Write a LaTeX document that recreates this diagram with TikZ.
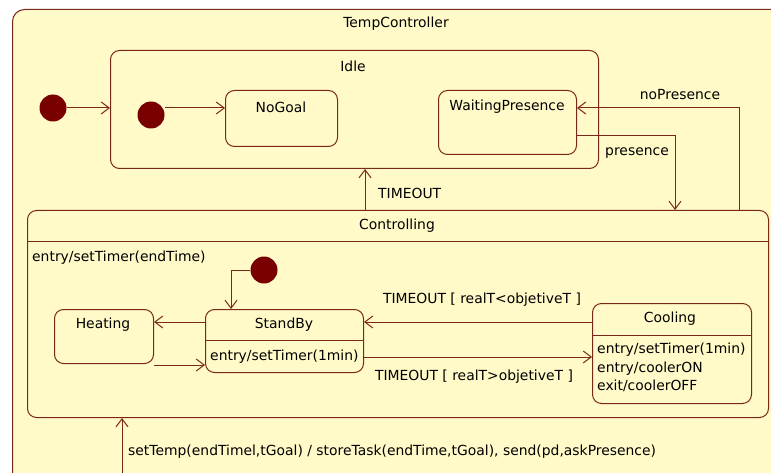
\documentclass[tikz,border=0pt]{standalone}
\usepackage{fontspec}
\setmainfont{DejaVu Sans}
\usetikzlibrary{arrows.meta}
\definecolor{fillY}{RGB}{255,250,200}
\definecolor{lineR}{RGB}{122,40,26}
\definecolor{dotR}{RGB}{120,0,0}
\begin{document}
\begin{tikzpicture}[x=1pt,y=-1pt, font=\fontsize{13.9}{18.5}\selectfont,
 state/.style={draw=lineR, fill=fillY, rounded corners=9pt, line width=1pt, anchor=north west, inner sep=0pt},
 arr/.style={draw=lineR, line width=1pt, -{Straight Barb[length=8pt,width=12pt]}},
 dot/.style={circle, fill=dotR, minimum size=27pt, inner sep=0pt},
 sep/.style={draw=lineR, line width=1pt},
 lbl/.style={inner sep=0pt, text=black}]
\useasboundingbox (0,0) rectangle (771,473);
\fill[white] (0,0) rectangle (771,473);
\clip (0,0) rectangle (771,473);
% outer state
\node[state, rounded corners=12pt, minimum width=820pt, minimum height=520pt] (TC) at (12,9) {};
\node[lbl] (tcl) at (396,24) {TempController};
% Idle
\node[state, minimum width=488pt, minimum height=118pt] (Idle) at (110,50) {};
\node[lbl] (idl) at (353,66) {Idle};
\node[state, minimum width=112pt, minimum height=56pt] (NG) at (225,90) {};
\node[lbl] (ngl) at (281,107) {NoGoal};
\node[state, minimum width=138pt, minimum height=64pt] (WP) at (438,90) {};
\node[lbl] (wpl) at (507,107) {WaitingPresence};
\node[dot] (d0) at (53,108) {};
\node[dot] (d1) at (151,115) {};
% Controlling
\node[state, minimum width=741pt, minimum height=207pt] (Ctrl) at (27,210) {};
\draw[sep] ([yshift=-32pt]Ctrl.north west) -- ([yshift=-32pt]Ctrl.north east);
\node[lbl] (ctl) at (397,226) {Controlling};
\node[lbl, anchor=west] (cen) at (32,258) {entry/setTimer(endTime)};
\node[dot] (d2) at (264,270) {};
\node[state, minimum width=158pt, minimum height=63pt] (SB) at (205,309) {};
\draw[sep] ([yshift=-31pt]SB.north west) -- ([yshift=-31pt]SB.north east);
\node[lbl] (sbl) at (284,325) {StandBy};
\node[lbl, anchor=west] (sbe) at (210,357) {entry/setTimer(1min)};
\node[state, minimum width=99pt, minimum height=54pt] (He) at (54,309) {};
\node[lbl] (hel) at (103,325) {Heating};
\node[state, minimum width=159pt, minimum height=100pt] (Co) at (592,303) {};
\draw[sep] ([yshift=-32pt]Co.north west) -- ([yshift=-32pt]Co.north east);
\node[lbl] (col) at (670,319) {Cooling};
\node[lbl, anchor=north west, align=left] (coe) at (597,343) {entry/setTimer(1min)\\entry/coolerON\\exit/coolerOFF};
% connectors
\draw[arr] (d0) -- (d0 -| Idle.west);
\coordinate (a1) at (165,108);
\draw[arr] (a1) -- (a1 -| NG.west);
\coordinate (np) at (739,108);
\draw[arr] (np |- Ctrl.north) -- (np) -- (np -| WP.east);
\node[lbl] (npl) at (680,95) {noPresence};
\coordinate (pr) at (675,136);
\draw[arr] (pr -| WP.east) -- (pr) -- (pr |- Ctrl.north);
\node[lbl] (prl) at (637,153) {presence};
\coordinate (to) at (365,190);
\draw[arr] (to |- Ctrl.north) -- (to |- Idle.south);
\node[lbl, anchor=west] (tol) at (378,193) {TIMEOUT};
\coordinate (sbc) at (231,270);
\draw[arr] (d2.west) -- (sbc) -- (sbc |- SB.north);
\coordinate (h1) at (180,322);
\draw[arr] (h1 -| SB.west) -- (h1 -| He.east);
\coordinate (h2) at (154,365);
\draw[arr] (h2) -- (h2 -| SB.west);
\coordinate (c1) at (480,322);
\draw[arr] (c1 -| Co.west) -- (c1 -| SB.east);
\node[lbl] (c1l) at (482,300) {TIMEOUT [ realT<objetiveT ]};
\coordinate (c2) at (480,357);
\draw[arr] (c2 -| SB.east) -- (c2 -| Co.west);
\node[lbl] (c2l) at (474,377) {TIMEOUT [ realT>objetiveT ]};
\coordinate (st) at (122,480);
\draw[arr] (st) -- (st |- Ctrl.south);
\node[lbl, anchor=west] (stl) at (128,452) {setTemp(endTimel,tGoal) / storeTask(endTime,tGoal), send(pd,askPresence)};
\end{tikzpicture}
\end{document}
